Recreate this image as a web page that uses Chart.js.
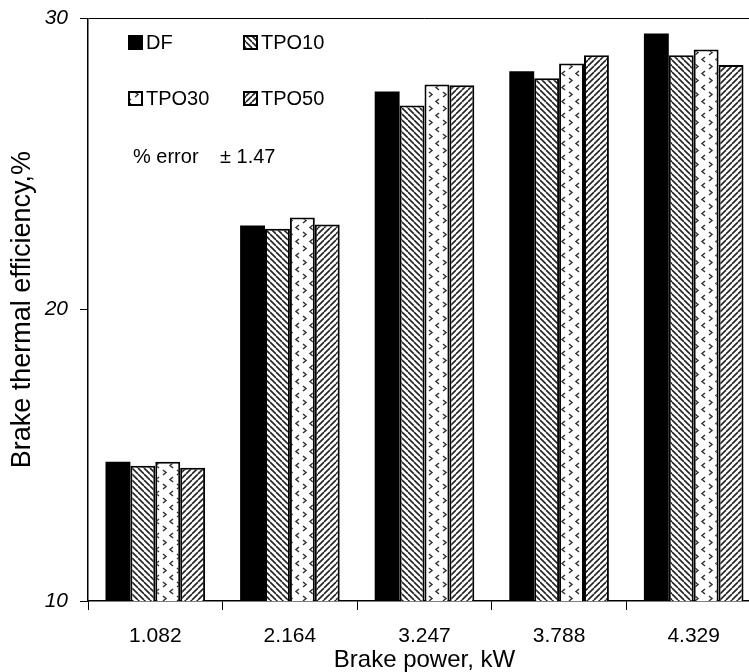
<!DOCTYPE html>
<html>
<head>
<meta charset="utf-8">
<script src="https://cdn.jsdelivr.net/npm/chart.js@4"></script>
<style>
  html, body { margin: 0; padding: 0; background: #fff; overflow: hidden; }
  #wrap { width: 765px; height: 672px; }
</style>
</head>
<body>
<div id="wrap"><canvas id="chart"></canvas></div>
<script>
const brakePower = ["1.082", "2.164", "3.247", "3.788", "4.329"];
const dfValues = [14.78, 22.89, 27.49, 28.18, 29.48];
const tpo10Values = [14.64, 22.78, 27.01, 27.94, 28.73];
const tpo30Values = [14.78, 23.16, 27.73, 28.45, 28.93];
const tpo50Values = [14.57, 22.92, 27.70, 28.73, 28.40];
const yTicks = [10, 20, 30];
const errorText = "% error";
const errorValue = "± 1.47";

const FONT = "'Liberation Sans', Arial, sans-serif";

function makePattern(kind) {
    const c = document.createElement("canvas");
    const size = kind === "dots" ? 14 : 6;
    c.width = size;
    c.height = size;
    const g = c.getContext("2d");
    g.fillStyle = "#fff";
    g.fillRect(0, 0, size, size);
    g.strokeStyle = "#222";
    g.lineWidth = 1.6;
    if (kind === "back") {
        // "\" lines
        for (let i = -size; i <= size; i += size) {
            g.beginPath();
            g.moveTo(i, 0);
            g.lineTo(i + size, size);
            g.stroke();
        }
    } else if (kind === "fwd") {
        // "/" lines
        for (let i = 0; i <= 2 * size; i += size) {
            g.beginPath();
            g.moveTo(i, 0);
            g.lineTo(i - size, size);
            g.stroke();
        }
    } else {
        // little chevrons
        g.strokeStyle = "#333";
        g.lineWidth = 1.5;
        g.beginPath();
        g.moveTo(5, 1); g.lineTo(2, 3.5); g.lineTo(5, 6);
        g.stroke();
        g.beginPath();
        g.moveTo(9, 8); g.lineTo(12, 10.5); g.lineTo(9, 13);
        g.stroke();
    }
    return g.createPattern(c, "repeat");
}

const patBack = makePattern("back");
const patFwd = makePattern("fwd");
const patDots = makePattern("dots");

const legendItems = [
    { label: "DF", fill: "#000", x: 128, y: 42 },
    { label: "TPO10", fill: patBack, x: 243, y: 42 },
    { label: "TPO30", fill: patDots, x: 128, y: 98 },
    { label: "TPO50", fill: patFwd, x: 243, y: 98 }
];

const legendPlugin = {
    id: "legendInside",
    afterDraw(chart) {
        const ctx = chart.ctx;
        ctx.save();
        ctx.font = "20px " + FONT;
        ctx.textBaseline = "middle";
        ctx.fillStyle = "#000";
        legendItems.forEach(item => {
            ctx.fillStyle = item.fill;
            ctx.fillRect(item.x, item.y - 7, 15, 15);
            ctx.strokeStyle = "#000";
            ctx.lineWidth = 2;
            ctx.strokeRect(item.x + 1, item.y - 6, 13, 13);
            ctx.fillStyle = "#000";
            ctx.fillText(item.label, item.x + 18, item.y + 1);
        });
        ctx.fillText(errorText, 133, 157);
        ctx.fillText(errorValue, 220, 157);
        ctx.restore();
    }
};

const ctx = document.getElementById("chart");

new Chart(ctx, {
    type: "bar",
    data: {
        labels: brakePower,
        datasets: [
            { label: "DF", data: dfValues, backgroundColor: "#000", borderColor: "#000", borderWidth: 0 },
            { label: "TPO10", data: tpo10Values, backgroundColor: patBack, borderColor: "#000", borderWidth: 2 },
            { label: "TPO30", data: tpo30Values, backgroundColor: patDots, borderColor: "#000", borderWidth: 2 },
            { label: "TPO50", data: tpo50Values, backgroundColor: patFwd, borderColor: "#000", borderWidth: 2 }
        ]
    },
    options: {
        responsive: true,
        maintainAspectRatio: false,
        animation: false,
        layout: { padding: { top: 18, right: 4, left: 6, bottom: 0 } },
        plugins: {
            legend: { display: false },
            tooltip: { enabled: false }
        },
        datasets: {
            bar: { categoryPercentage: 0.74, barPercentage: 1.0, borderSkipped: "bottom" }
        },
        scales: {
            x: {
                grid: { display: true, drawOnChartArea: false, color: "#000", tickLength: 9, offset: true },
                border: { color: "#000", width: 1.5 },
                ticks: { color: "#000", font: { family: FONT, size: 21 }, padding: 14 },
                title: { display: true, text: "Brake power, kW", color: "#000", font: { family: FONT, size: 24, lineHeight: 1.0 }, padding: { top: 0, bottom: 0 } },
                afterFit: s => { s.height = 71; }
            },
            y: {
                min: 10,
                max: 30,
                afterBuildTicks: s => { s.ticks = yTicks.map(v => ({ value: v })); },
                grid: {
                    color: c => (c.tick && c.tick.value === 30 ? "#000" : "rgba(0,0,0,0)"),
                    tickColor: "#000",
                    tickLength: 8
                },
                border: { color: "#000", width: 1.5 },
                ticks: { color: "#000", font: { family: FONT, size: 21, style: "italic", lineHeight: 0.6 }, padding: 12 },
                title: { display: true, text: "Brake thermal efficiency,%", color: "#000", font: { family: FONT, size: 27 }, padding: { top: 0, bottom: 0 } },
                afterFit: s => { s.width = 82; }
            }
        }
    },
    plugins: [legendPlugin]
});
</script>
</body>
</html>
